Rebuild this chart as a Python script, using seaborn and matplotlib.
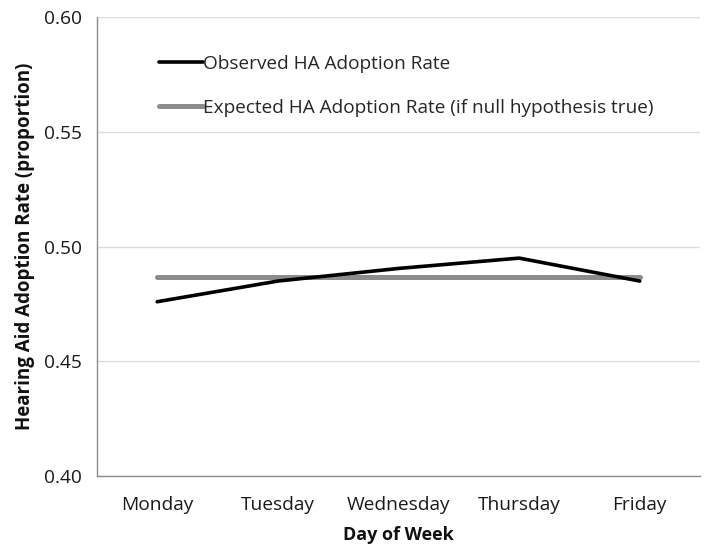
import matplotlib
matplotlib.use("Agg")
import matplotlib.pyplot as plt
import seaborn as sns
import pandas as pd
import numpy as np
from matplotlib.lines import Line2D

days = ["Monday", "Tuesday", "Wednesday", "Thursday", "Friday"]
observed = [0.476, 0.485, 0.4905, 0.495, 0.485]
expected = [0.4867, 0.4867, 0.4867, 0.4867, 0.4867]
obs_label = "Observed HA Adoption Rate"
exp_label = "Expected HA Adoption Rate (if null hypothesis true)"
yticks = [0.40, 0.45, 0.50, 0.55, 0.60]

sns.set_style("white")
plt.rcParams['font.family'] = ['Open Sans', 'DejaVu Sans']

df = pd.DataFrame({
    "day": days * 2,
    "pos": list(range(len(days))) * 2,
    "rate": observed + expected,
    "series": [obs_label] * len(days) + [exp_label] * len(days),
})

OBS_LW, EXP_LW = 2.6, 3.6
fig = plt.figure(figsize=(7.18, 5.53), dpi=100)
ax = fig.add_axes([0.135, 0.139, 0.840, 0.830])

sns.lineplot(data=df, x="pos", y="rate", hue="series", size="series",
             palette={obs_label: "black", exp_label: "#8c8c8c"},
             sizes={obs_label: OBS_LW, exp_label: EXP_LW},
             hue_order=[exp_label, obs_label], size_order=[exp_label, obs_label],
             ax=ax, legend=False)

ax.set_xlim(-0.5, len(days) - 0.5)
ax.set_ylim(0.40, 0.60)
ax.set_yticks(yticks)
ax.set_yticklabels([f"{v:.2f}" for v in yticks])
ax.set_xticks(range(len(days)))
ax.set_xticklabels(days)
ax.set_xticks(np.arange(-0.5, len(days), 1.0), minor=True)
ax.tick_params(axis="x", which="major", length=0, pad=14, labelsize=13.8, colors="#1a1a1a")
ax.tick_params(axis="x", which="minor", length=5, color="#8c8c8c", width=1)
ax.tick_params(axis="y", which="major", length=5, width=1, labelsize=13.8, pad=6, colors="#1a1a1a")
ax.tick_params(axis="y", which="major", color="#8c8c8c")

ax.yaxis.grid(True, color="#dcdcdc", linewidth=1)
ax.set_axisbelow(True)
for s in ["top", "right"]:
    ax.spines[s].set_visible(False)
for s in ["left", "bottom"]:
    ax.spines[s].set_color("#8c8c8c")
    ax.spines[s].set_linewidth(1)

ax.set_xlabel("Day of Week", fontsize=13, fontweight="bold", labelpad=9, color="#111111")
ax.set_ylabel("Hearing Aid Adoption Rate (proportion)", fontsize=13.5, fontweight="bold",
              labelpad=6, color="#111111")

handles = [Line2D([], [], color="black", lw=OBS_LW), Line2D([], [], color="#8c8c8c", lw=EXP_LW)]
ax.legend(handles, [obs_label, exp_label], loc="upper left", bbox_to_anchor=(0.075, 0.955),
          frameon=False, handlelength=2.3, handletextpad=0.0, labelspacing=1.35, fontsize=13.7)

fig.savefig("out.png", dpi=100)
